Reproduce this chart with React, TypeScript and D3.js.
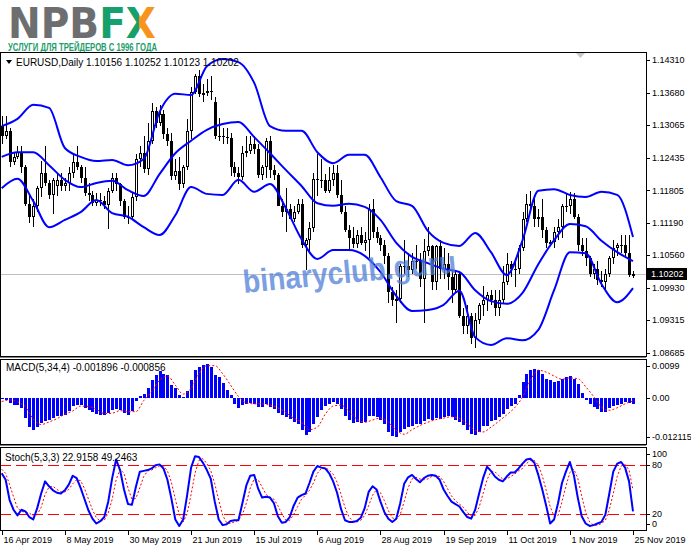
import { useRef, useEffect } from 'react';
import * as d3 from 'd3';

// EURUSD daily, 16 Apr 2019 .. 25 Nov 2019
const opens = [
  1.1305, 1.1285, 1.1295, 1.1235, 1.1245, 1.1255, 1.1225, 1.1155, 1.1130, 1.1150,
  1.1185, 1.1215, 1.1195, 1.1172, 1.1190, 1.1200, 1.1190, 1.1195, 1.1215, 1.1235,
  1.1225, 1.1205, 1.1175, 1.1172, 1.1157, 1.1162, 1.1160, 1.1152, 1.1180, 1.1204,
  1.1192, 1.1160, 1.1130, 1.1130, 1.1168, 1.1240, 1.1253, 1.1222, 1.1275, 1.1334,
  1.1311, 1.1327, 1.1289, 1.1275, 1.1208, 1.1218, 1.1193, 1.1225, 1.1294, 1.1370,
  1.1400, 1.1366, 1.1368, 1.1371, 1.1350, 1.1285, 1.1285, 1.1284, 1.1282, 1.1226,
  1.1214, 1.1207, 1.1252, 1.1257, 1.1270, 1.1260, 1.1210, 1.1225, 1.1275, 1.1220,
  1.1210, 1.1150, 1.1140, 1.1145, 1.1126, 1.1140, 1.1155, 1.1075, 1.1085, 1.1108,
  1.1203, 1.1200, 1.1200, 1.1180, 1.1200, 1.1215, 1.1172, 1.1140, 1.1105, 1.1090,
  1.1077, 1.1095, 1.1080, 1.1085, 1.1145, 1.1100, 1.1090, 1.1075, 1.1055, 1.0985,
  1.0970, 1.0972, 1.1035, 1.1035, 1.1027, 1.1045, 1.1045, 1.1010, 1.1065, 1.1073,
  1.1005, 1.1073, 1.1030, 1.1040, 1.1015, 1.0990, 1.1020, 1.0940, 1.0920, 1.0940,
  1.0898, 1.0932, 1.0960, 1.0970, 1.0980, 1.0970, 1.0955, 1.0970, 1.1005, 1.1040,
  1.1030, 1.1030, 1.1070, 1.1125, 1.1155, 1.1150, 1.1125, 1.1130, 1.1105, 1.1080,
  1.1082, 1.1100, 1.1110, 1.1150, 1.1150, 1.1165, 1.1130, 1.1075, 1.1065, 1.1050,
  1.1020, 1.1030, 1.1008, 1.1005, 1.1020, 1.1050, 1.1070, 1.1075, 1.1075, 1.1060,
  1.10156,
];
const highs = [
  1.1323, 1.1324, 1.1300, 1.1252, 1.1266, 1.1265, 1.1230, 1.1174, 1.1165, 1.1190,
  1.1238, 1.1265, 1.1200, 1.1205, 1.1215, 1.1215, 1.1205, 1.1225, 1.1250, 1.1265,
  1.1230, 1.1225, 1.1195, 1.1180, 1.1175, 1.1175, 1.1170, 1.1185, 1.1215, 1.1215,
  1.1195, 1.1165, 1.1150, 1.1175, 1.1250, 1.1265, 1.1285, 1.1310, 1.1348, 1.1340,
  1.1345, 1.1335, 1.1300, 1.1290, 1.1240, 1.1245, 1.1230, 1.1318, 1.1380, 1.1405,
  1.1412, 1.1385, 1.1395, 1.1400, 1.1360, 1.1320, 1.1300, 1.1300, 1.1290, 1.1235,
  1.1225, 1.1265, 1.1285, 1.1285, 1.1285, 1.1270, 1.1230, 1.1282, 1.1285, 1.1230,
  1.1215, 1.1165, 1.1185, 1.1155, 1.1150, 1.1165, 1.1165, 1.1090, 1.1120, 1.1215,
  1.1250, 1.1240, 1.1212, 1.1225, 1.1230, 1.1230, 1.1200, 1.1150, 1.1115, 1.1110,
  1.1105, 1.1110, 1.1100, 1.1155, 1.1165, 1.1110, 1.1095, 1.1085, 1.1060, 1.0995,
  1.0990, 1.1040, 1.1085, 1.1060, 1.1060, 1.1075, 1.1060, 1.1087, 1.1110, 1.1075,
  1.1075, 1.1085, 1.1070, 1.1060, 1.1025, 1.1025, 1.1025, 1.0955, 1.0960, 1.0945,
  1.0945, 1.0965, 1.0998, 1.0985, 1.0990, 1.0990, 1.0990, 1.1035, 1.1060, 1.1045,
  1.1050, 1.1075, 1.1140, 1.1173, 1.1179, 1.1165, 1.1145, 1.1165, 1.1110, 1.1085,
  1.1110, 1.1125, 1.1155, 1.1175, 1.1177, 1.1175, 1.1135, 1.1090, 1.1090, 1.1055,
  1.1040, 1.1045, 1.1025, 1.1030, 1.1055, 1.1085, 1.1080, 1.1095, 1.1095, 1.1095,
  1.10252,
];
const lows = [
  1.1270, 1.1280, 1.1226, 1.1230, 1.1240, 1.1215, 1.1150, 1.1118, 1.1111, 1.1140,
  1.1168, 1.1190, 1.1165, 1.1135, 1.1170, 1.1180, 1.1180, 1.1180, 1.1205, 1.1220,
  1.1195, 1.1170, 1.1160, 1.1150, 1.1150, 1.1150, 1.1145, 1.1106, 1.1175, 1.1180,
  1.1150, 1.1125, 1.1116, 1.1125, 1.1160, 1.1225, 1.1215, 1.1210, 1.1270, 1.1300,
  1.1305, 1.1280, 1.1265, 1.1200, 1.1200, 1.1181, 1.1185, 1.1220, 1.1280, 1.1365,
  1.1360, 1.1350, 1.1362, 1.1355, 1.1280, 1.1275, 1.1270, 1.1270, 1.1208, 1.1206,
  1.1193, 1.1200, 1.1245, 1.1250, 1.1250, 1.1205, 1.1200, 1.1205, 1.1205, 1.1200,
  1.1150, 1.1130, 1.1100, 1.1125, 1.1120, 1.1135, 1.1070, 1.1027, 1.1060, 1.1100,
  1.1170, 1.1185, 1.1175, 1.1176, 1.1190, 1.1167, 1.1135, 1.1100, 1.1065, 1.1070,
  1.1070, 1.1075, 1.1065, 1.1050, 1.1090, 1.1080, 1.1065, 1.1040, 1.0965, 1.0958,
  1.0926, 1.0965, 1.1020, 1.1015, 1.1020, 1.1030, 1.0995, 1.0927, 1.1055, 1.0990,
  1.0990, 1.1010, 1.1010, 1.0990, 1.0965, 1.0985, 1.0935, 1.0905, 1.0905, 1.0885,
  1.0879, 1.0925, 1.0940, 1.0950, 1.0960, 1.0940, 1.0940, 1.0965, 1.1000, 1.1015,
  1.0995, 1.1020, 1.1065, 1.1120, 1.1140, 1.1110, 1.1110, 1.1090, 1.1070, 1.1075,
  1.1070, 1.1085, 1.1090, 1.1140, 1.1135, 1.1125, 1.1065, 1.1055, 1.1035, 1.1015,
  1.1010, 1.1000, 1.0995, 1.0989, 1.1015, 1.1040, 1.1055, 1.1060, 1.1055, 1.1015,
  1.10123,
];
const closes = [
  1.1285, 1.1295, 1.1235, 1.1245, 1.1255, 1.1225, 1.1155, 1.1130, 1.1150, 1.1185,
  1.1215, 1.1195, 1.1172, 1.1200, 1.1200, 1.1190, 1.1195, 1.1215, 1.1235, 1.1225,
  1.1205, 1.1175, 1.1172, 1.1157, 1.1162, 1.1160, 1.1152, 1.1180, 1.1204, 1.1192,
  1.1160, 1.1130, 1.1130, 1.1168, 1.1240, 1.1253, 1.1222, 1.1275, 1.1334, 1.1311,
  1.1327, 1.1289, 1.1275, 1.1208, 1.1218, 1.1193, 1.1225, 1.1294, 1.1370, 1.1400,
  1.1366, 1.1368, 1.1371, 1.1370, 1.1285, 1.1285, 1.1284, 1.1282, 1.1226, 1.1214,
  1.1207, 1.1252, 1.1257, 1.1270, 1.1260, 1.1210, 1.1225, 1.1275, 1.1220, 1.1210,
  1.1150, 1.1140, 1.1145, 1.1126, 1.1140, 1.1155, 1.1075, 1.1085, 1.1108, 1.1203,
  1.1200, 1.1200, 1.1180, 1.1200, 1.1215, 1.1172, 1.1140, 1.1105, 1.1090, 1.1077,
  1.1095, 1.1080, 1.1085, 1.1145, 1.1100, 1.1090, 1.1075, 1.1055, 1.0985, 1.0970,
  1.0972, 1.1035, 1.1035, 1.1027, 1.1045, 1.1045, 1.1010, 1.1065, 1.1073, 1.1005,
  1.1073, 1.1030, 1.1040, 1.1015, 1.0990, 1.1020, 1.0940, 1.0920, 1.0940, 1.0898,
  1.0932, 1.0960, 1.0970, 1.0980, 1.0970, 1.0955, 1.0970, 1.1005, 1.1040, 1.1030,
  1.1030, 1.1070, 1.1125, 1.1155, 1.1150, 1.1125, 1.1130, 1.1105, 1.1080, 1.1082,
  1.1100, 1.1110, 1.1150, 1.1150, 1.1165, 1.1130, 1.1075, 1.1065, 1.1050, 1.1020,
  1.1030, 1.1008, 1.1005, 1.1020, 1.1050, 1.1070, 1.1075, 1.1075, 1.1060, 1.1018,
  1.10202,
];

// Bollinger bands, read every 4th bar
const bbStep = 4;
const bbUpper = [
  1.1304, 1.1318, 1.1345, 1.1339, 1.1262, 1.1245, 1.1237, 1.1239, 1.1229, 1.1241,
  1.1331, 1.1366, 1.1364, 1.1419, 1.1433, 1.1427, 1.1387, 1.1304, 1.1295, 1.1295,
  1.1254, 1.1233, 1.1249, 1.1249, 1.1206, 1.1160, 1.1151, 1.1103, 1.1080, 1.1074,
  1.1099, 1.1062, 1.1018, 1.1085, 1.1180, 1.1183, 1.1172, 1.1168, 1.1178, 1.1172,
  1.1091,
];
const bbMiddle = [
  1.1245, 1.1254, 1.1254, 1.1229, 1.1201, 1.1187, 1.1195, 1.1199, 1.1181, 1.1170,
  1.1212, 1.1252, 1.1276, 1.1297, 1.1308, 1.1312, 1.1283, 1.1252, 1.1220, 1.1189,
  1.1156, 1.1151, 1.1155, 1.1149, 1.1124, 1.1080, 1.1053, 1.1041, 1.1030, 1.1024,
  1.0989, 1.0968, 1.0963, 1.0984, 1.1039, 1.1085, 1.1116, 1.1112, 1.1084, 1.1062,
  1.1045,
];
const bbLower = [
  1.1185, 1.1203, 1.1160, 1.1110, 1.1124, 1.1139, 1.1162, 1.1137, 1.1130, 1.1110,
  1.1095, 1.1133, 1.1187, 1.1174, 1.1172, 1.1201, 1.1178, 1.1193, 1.1147, 1.1087,
  1.1049, 1.1066, 1.1066, 1.1055, 1.1024, 1.0978, 1.0949, 1.0951, 1.0961, 1.0988,
  1.0899, 1.0884, 1.0897, 1.0893, 1.0913, 1.0989, 1.1062, 1.1060, 1.1001, 1.0966,
  1.0993,
];

// MACD(5,34,4) histogram, one per bar
const macdMain = [
  -0.0004, -0.0005, -0.0015, -0.0021, -0.0021, -0.0031, -0.0062, -0.0089, -0.0099, -0.0089,
  -0.0077, -0.0072, -0.0067, -0.0062, -0.0057, -0.0057, -0.0052, -0.0041, -0.0026, -0.0021,
  -0.0023, -0.0031, -0.0036, -0.0043, -0.0049, -0.0052, -0.0052, -0.0046, -0.0036, -0.0033,
  -0.0036, -0.0046, -0.0052, -0.0041, -0.0010, 0.0005, 0.0012, 0.0031, 0.0057, 0.0072,
  0.0082, 0.0075, 0.0070, 0.0040, 0.0030, 0.0008, 0.0003, 0.0023, 0.0055, 0.0086,
  0.0096, 0.0101, 0.0106, 0.0096, 0.0072, 0.0065, 0.0045, 0.0025, 0.0010, -0.0020,
  -0.0031, -0.0023, -0.0017, -0.0015, -0.0017, -0.0028, -0.0028, -0.0020, -0.0028, -0.0035,
  -0.0045, -0.0054, -0.0059, -0.0066, -0.0074, -0.0080, -0.0100, -0.0114, -0.0106, -0.0080,
  -0.0059, -0.0038, -0.0025, -0.0018, -0.0012, -0.0018, -0.0035, -0.0055, -0.0068, -0.0078,
  -0.0075, -0.0076, -0.0074, -0.0055, -0.0056, -0.0060, -0.0068, -0.0080, -0.0105, -0.0118,
  -0.0121, -0.0105, -0.0095, -0.0090, -0.0085, -0.0080, -0.0080, -0.0070, -0.0065, -0.0068,
  -0.0062, -0.0064, -0.0058, -0.0055, -0.0060, -0.0068, -0.0075, -0.0082, -0.0098, -0.0110,
  -0.0115, -0.0105, -0.0088, -0.0085, -0.0072, -0.0068, -0.0060, -0.0048, -0.0035, -0.0025,
  -0.0018, 0.0008, 0.0048, 0.0075, 0.0088, 0.0090, 0.0086, 0.0075, 0.0060, 0.0055,
  0.0050, 0.0052, 0.0060, 0.0066, 0.0068, 0.0060, 0.0042, 0.0015, -0.0005, -0.0018,
  -0.0028, -0.0035, -0.0042, -0.0042, -0.0032, -0.0025, -0.0022, -0.0017, -0.0012, -0.0014,
  -0.0019,
];
// signal line, read every 2nd bar
const signalStep = 2;
const macdSignal = [
  -0.0011, -0.0006, -0.0012, -0.0027, -0.0065, -0.0082, -0.0074, -0.0064, -0.0050, -0.0040,
  -0.0025, -0.0026, -0.0035, -0.0048, -0.0047, -0.0039, -0.0042, -0.0042, -0.0008, 0.0020,
  0.0055, 0.0068, 0.0040, 0.0012, 0.0030, 0.0075, 0.0100, 0.0100, 0.0075, 0.0040,
  0.0005, -0.0015, -0.0018, -0.0018, -0.0022, -0.0030, -0.0045, -0.0062, -0.0075, -0.0098,
  -0.0090, -0.0050, -0.0025, -0.0022, -0.0040, -0.0065, -0.0075, -0.0068, -0.0062, -0.0075,
  -0.0100, -0.0112, -0.0098, -0.0085, -0.0075, -0.0067, -0.0062, -0.0058, -0.0063, -0.0080,
  -0.0100, -0.0105, -0.0090, -0.0072, -0.0052, -0.0030, 0.0003, 0.0055, 0.0086, 0.0080,
  0.0068, 0.0058, 0.0062, 0.0060, 0.0035, 0.0005, -0.0028, -0.0038, -0.0030, -0.0018,
  -0.0009,
];

// Stoch(5,3,3)
const stochK = [
  70, 62, 37, 25, 18, 25, 23, 16, 13, 27,
  45, 60, 54, 49, 46, 45, 49, 56, 67, 64,
  52, 38, 24, 14, 8, 11, 16, 35, 64, 87,
  74, 50, 32, 31, 53, 72, 73, 74, 76, 80,
  81, 76, 62, 39, 13, 5, 13, 43, 77, 91,
  90, 83, 74, 63, 35, 13, 6, 7, 11, 12,
  12, 33, 55, 67, 68, 51, 40, 41, 40, 33,
  17, 9, 10, 16, 30, 40, 43, 45, 58, 72,
  79, 77, 76, 70, 60, 46, 26, 12, 10, 10,
  11, 15, 27, 47, 54, 50, 35, 22, 14, 10,
  14, 33, 57, 65, 68, 63, 59, 64, 67, 68,
  67, 62, 50, 42, 35, 32, 29, 22, 16, 14,
  25, 45, 64, 78, 73, 66, 62, 60, 66, 71,
  71, 76, 82, 87, 88, 83, 68, 50, 30, 8,
  13, 33, 58, 72, 84, 68, 40, 17, 8, 5,
  6, 8, 10, 19, 45, 72, 82, 84, 77, 60,
  22.9158,
];
const stochD = [
  75, 70, 56, 41, 27, 23, 22, 21, 17, 19,
  28, 44, 53, 54, 50, 47, 47, 50, 57, 62,
  61, 51, 38, 25, 15, 11, 12, 21, 38, 62,
  75, 70, 52, 38, 39, 52, 66, 73, 74, 77,
  79, 79, 73, 59, 38, 19, 10, 20, 44, 70,
  86, 88, 82, 73, 57, 37, 18, 9, 8, 10,
  12, 19, 33, 52, 63, 62, 53, 44, 40, 38,
  30, 20, 12, 12, 19, 29, 38, 43, 49, 58,
  70, 76, 77, 74, 69, 59, 44, 28, 16, 11,
  10, 12, 18, 30, 43, 50, 46, 36, 24, 15,
  13, 19, 35, 52, 63, 65, 63, 62, 63, 66,
  67, 66, 60, 51, 42, 36, 32, 28, 22, 17,
  18, 28, 45, 62, 72, 72, 67, 63, 63, 66,
  69, 73, 76, 82, 86, 86, 80, 67, 49, 29,
  17, 18, 35, 54, 71, 75, 64, 42, 22, 10,
  6, 6, 8, 12, 25, 45, 66, 79, 81, 74,
  49.2463,
];

const priceTicks = [1.1431, 1.1368, 1.13065, 1.12435, 1.11805, 1.1119, 1.1056, 1.0993, 1.09315, 1.08685];
const macdTicks = [0.0099, 0, -0.012115];
const macdTickLabels = ['0.0099', '0.00', '-0.012115'];
const stochTicks = [100, 80, 20, 0];
const stochLevels = [80, 20];
const dateStep = 16;
const dateLabels = [
  '16 Apr 2019', '8 May 2019', '30 May 2019', '21 Jun 2019', '15 Jul 2019', '6 Aug 2019',
  '28 Aug 2019', '19 Sep 2019', '11 Oct 2019', '1 Nov 2019', '25 Nov 2019',
];
const symbol = 'EURUSD,Daily';
const macdTitle = 'MACD(5,34,4) -0.001896 -0.000856';
const stochTitle = 'Stoch(5,3,3) 22.9158 49.2463';

const App = () => {
  const ref = useRef<SVGSVGElement>(null);

  useEffect(() => {
    const width = 691;
    const height = 549;
    const plotRight = 646;
    const font = "'Liberation Sans', Arial, sans-serif";
    const blue = '#0000ff';
    const red = '#ff0000';

    const main = { top: 52, bottom: 356 };
    const macdP = { top: 359, bottom: 444 };
    const stochP = { top: 447, bottom: 530 };

    const n = closes.length;
    const x = d3.scaleLinear().domain([0, n - 1]).range([1.7, 633]);
    const yPrice = d3.scaleLinear().domain([1.08685, 1.1431]).range([353, 60]);
    const yMacd = d3.scaleLinear().domain([-0.012115, 0.0099]).range([437.2, 366]);
    const yStoch = d3.scaleLinear().domain([0, 100]).range([530, 449]);

    const svg: any = d3.select(ref.current);
    svg.selectAll('*').remove();
    svg.attr('viewBox', [0, 0, width, height]).attr('width', width).attr('height', height);

    svg.append('rect').attr('width', width).attr('height', height).attr('fill', '#fff');

    const defs = svg.append('defs');
    [['clip-main', main], ['clip-macd', macdP], ['clip-stoch', stochP]].forEach(([id, p]: any) => {
      defs.append('clipPath').attr('id', id)
        .append('rect').attr('x', 0).attr('y', p.top).attr('width', plotRight).attr('height', p.bottom - p.top);
    });
    // logo colours: grey NPB, green F, green/orange X
    const lg = defs.append('linearGradient').attr('id', 'logo-grad')
      .attr('gradientUnits', 'userSpaceOnUse').attr('x1', 8).attr('x2', 156).attr('y1', 0).attr('y2', 0);
    [
      [0, '#6d6e70'], [0.6, '#6d6e70'], [0.6, '#15a06c'], [0.885, '#15a06c'], [0.885, '#f7941d'], [1, '#f7941d'],
    ].forEach(([o, c]) => lg.append('stop').attr('offset', o).attr('stop-color', c));

    svg.append('text')
      .attr('x', 8).attr('y', 38)
      .attr('font-family', "'DejaVu Sans', sans-serif").attr('font-weight', 900).attr('font-size', 42)
      .attr('textLength', 148).attr('lengthAdjust', 'spacingAndGlyphs')
      .attr('fill', 'url(#logo-grad)')
      .text('NPBFX');
    svg.append('text')
      .attr('x', 8).attr('y', 50.5)
      .attr('font-family', font).attr('font-weight', 700).attr('font-size', 10)
      .attr('fill', '#1c9d6c')
      .attr('textLength', 149).attr('lengthAdjust', 'spacingAndGlyphs')
      .text('УСЛУГИ ДЛЯ ТРЕЙДЕРОВ С 1996 ГОДА');

    // ---------- main panel ----------
    const gMain = svg.append('g').attr('clip-path', 'url(#clip-main)');
    const lastPrice = closes[n - 1];
    gMain.append('line')
      .attr('x1', 0).attr('x2', plotRight)
      .attr('y1', Math.round(yPrice(lastPrice)) + 0.5).attr('y2', Math.round(yPrice(lastPrice)) + 0.5)
      .attr('stroke', '#c0c0c0');

    const candles = gMain.append('g').attr('shape-rendering', 'crispEdges');
    closes.forEach((c, i) => {
      const o = opens[i];
      const px = Math.round(x(i));
      candles.append('line')
        .attr('x1', px + 0.5).attr('x2', px + 0.5)
        .attr('y1', yPrice(highs[i])).attr('y2', yPrice(lows[i]))
        .attr('stroke', '#000');
      const top = Math.round(yPrice(Math.max(o, c)));
      const bot = Math.round(yPrice(Math.min(o, c)));
      const h = bot - top;
      if (h < 1) {
        candles.append('line')
          .attr('x1', px - 1).attr('x2', px + 2)
          .attr('y1', top + 0.5).attr('y2', top + 0.5)
          .attr('stroke', '#000');
      } else if (c >= o) {
        candles.append('rect')
          .attr('x', px - 0.5).attr('y', top + 0.5).attr('width', 2).attr('height', Math.max(h - 1, 1))
          .attr('fill', '#fff').attr('stroke', '#000');
      } else {
        candles.append('rect')
          .attr('x', px - 1).attr('y', top).attr('width', 3).attr('height', h)
          .attr('fill', '#000');
      }
    });

    const bbLine = d3.line<number>()
      .x((_, k) => x(k * bbStep))
      .y((d) => yPrice(d))
      .curve(d3.curveMonotoneX);
    [bbUpper, bbMiddle, bbLower].forEach((band) => {
      gMain.append('path')
        .attr('d', bbLine(band))
        .attr('fill', 'none').attr('stroke', blue).attr('stroke-width', 2)
        .attr('stroke-linejoin', 'round');
    });

    // chart shift marker
    svg.append('path').attr('d', 'M576,53 L585,53 L580.5,58 Z').attr('fill', '#c8c8c8');

    // header
    svg.append('path').attr('d', 'M6,60 L12,60 L9,64 Z').attr('fill', '#000');
    svg.append('text')
      .attr('x', 16).attr('y', 66)
      .attr('font-family', font).attr('font-size', 10).attr('fill', '#000')
      .text(symbol);
    svg.append('text')
      .attr('x', 86).attr('y', 66)
      .attr('font-family', font).attr('font-size', 10).attr('fill', '#000')
      .text([opens[n - 1], highs[n - 1], lows[n - 1], closes[n - 1]].map((v) => v.toFixed(5)).join(' '));

    // ---------- MACD panel ----------
    const gMacd = svg.append('g').attr('clip-path', 'url(#clip-macd)');
    const bars = gMacd.append('g').attr('shape-rendering', 'crispEdges');
    const y0 = Math.round(yMacd(0));
    macdMain.forEach((v, i) => {
      const yv = Math.round(yMacd(v));
      const px = Math.round(x(i));
      bars.append('rect')
        .attr('x', px - 1).attr('width', 3)
        .attr('y', Math.min(y0, yv)).attr('height', Math.max(Math.abs(yv - y0), 1))
        .attr('fill', blue);
    });
    const sigLine = d3.line<number>()
      .x((_, k) => x(k * signalStep))
      .y((d) => yMacd(d))
      .curve(d3.curveMonotoneX);
    gMacd.append('path')
      .attr('d', sigLine(macdSignal))
      .attr('fill', 'none').attr('stroke', red).attr('stroke-width', 1)
      .attr('stroke-dasharray', '2,2');
    svg.append('text')
      .attr('x', 6).attr('y', 371)
      .attr('font-family', font).attr('font-size', 10).attr('fill', '#000')
      .text(macdTitle);

    // ---------- Stochastic panel ----------
    const gSt = svg.append('g').attr('clip-path', 'url(#clip-stoch)');
    stochLevels.forEach((lv) => {
      gSt.append('line')
        .attr('x1', 0).attr('x2', plotRight)
        .attr('y1', Math.round(yStoch(lv)) + 0.5).attr('y2', Math.round(yStoch(lv)) + 0.5)
        .attr('stroke', red).attr('stroke-width', 1.2).attr('stroke-dasharray', '11,5');
    });
    const kLine = d3.line<number>().x((_, i) => x(i)).y((d) => yStoch(d));
    gSt.append('path')
      .attr('d', kLine(stochD))
      .attr('fill', 'none').attr('stroke', red).attr('stroke-width', 1)
      .attr('stroke-dasharray', '2,2');
    gSt.append('path')
      .attr('d', kLine(stochK))
      .attr('fill', 'none').attr('stroke', blue).attr('stroke-width', 2)
      .attr('stroke-linejoin', 'round');
    svg.append('text')
      .attr('x', 5).attr('y', 461)
      .attr('font-family', font).attr('font-size', 10).attr('fill', '#000')
      .text(stochTitle);

    // ---------- frames ----------
    const frames = svg.append('g').attr('fill', 'none').attr('stroke', '#000').attr('shape-rendering', 'crispEdges');
    [main, macdP, stochP].forEach((p) => {
      frames.append('rect')
        .attr('x', 0.5).attr('y', p.top + 0.5)
        .attr('width', plotRight - 0.5).attr('height', p.bottom - p.top);
    });
    frames.append('line').attr('x1', 0).attr('x2', plotRight).attr('y1', main.bottom + 1.5).attr('y2', main.bottom + 1.5).attr('stroke', '#808080');
    frames.append('line').attr('x1', 0).attr('x2', plotRight).attr('y1', macdP.bottom + 1.5).attr('y2', macdP.bottom + 1.5).attr('stroke', '#808080');

    // ---------- right axis ----------
    const axis = svg.append('g').attr('font-family', font).attr('font-size', 9).attr('fill', '#000');
    const tick = (yy: number, label: string) => {
      axis.append('line')
        .attr('x1', plotRight).attr('x2', plotRight + 4)
        .attr('y1', Math.round(yy) + 0.5).attr('y2', Math.round(yy) + 0.5)
        .attr('stroke', '#000');
      axis.append('text').attr('x', plotRight + 6).attr('y', yy).attr('dy', '0.35em').text(label);
    };
    priceTicks.forEach((p) => tick(yPrice(p), p.toFixed(5)));
    macdTicks.forEach((v, k) => tick(yMacd(v), macdTickLabels[k]));
    stochTicks.forEach((v) => {
      const yy = Math.min(Math.max(yStoch(v), 454), 524);
      tick(yy, String(v));
    });

    // current price box
    const yp = yPrice(lastPrice);
    axis.append('rect').attr('x', plotRight + 1).attr('y', yp - 6).attr('width', 40).attr('height', 12).attr('fill', '#000');
    axis.append('text').attr('x', plotRight + 5).attr('y', yp).attr('dy', '0.35em').attr('fill', '#fff')
      .text(lastPrice.toFixed(5));

    // ---------- date axis ----------
    dateLabels.forEach((lab, k) => {
      const px = Math.round(x(k * dateStep)) + 0.5;
      axis.append('line')
        .attr('x1', px).attr('x2', px)
        .attr('y1', stochP.bottom).attr('y2', stochP.bottom + 5)
        .attr('stroke', '#000');
      axis.append('text').attr('x', px + 1).attr('y', 543).text(lab);
    });

    // watermark
    svg.append('text')
      .attr('x', 244).attr('y', 293)
      .attr('transform', 'rotate(-5.5 244 293)')
      .attr('font-family', font).attr('font-weight', 700).attr('font-size', 32)
      .attr('fill', '#4f80d8').attr('opacity', 0.75)
      .attr('textLength', 214).attr('lengthAdjust', 'spacingAndGlyphs')
      .text('binaryclub.guru');
  }, []);

  return (
    <div style={{ position: 'absolute', left: 0, top: 0 }}>
      <svg ref={ref} style={{ display: 'block' }}></svg>
    </div>
  );
};

export default App;
